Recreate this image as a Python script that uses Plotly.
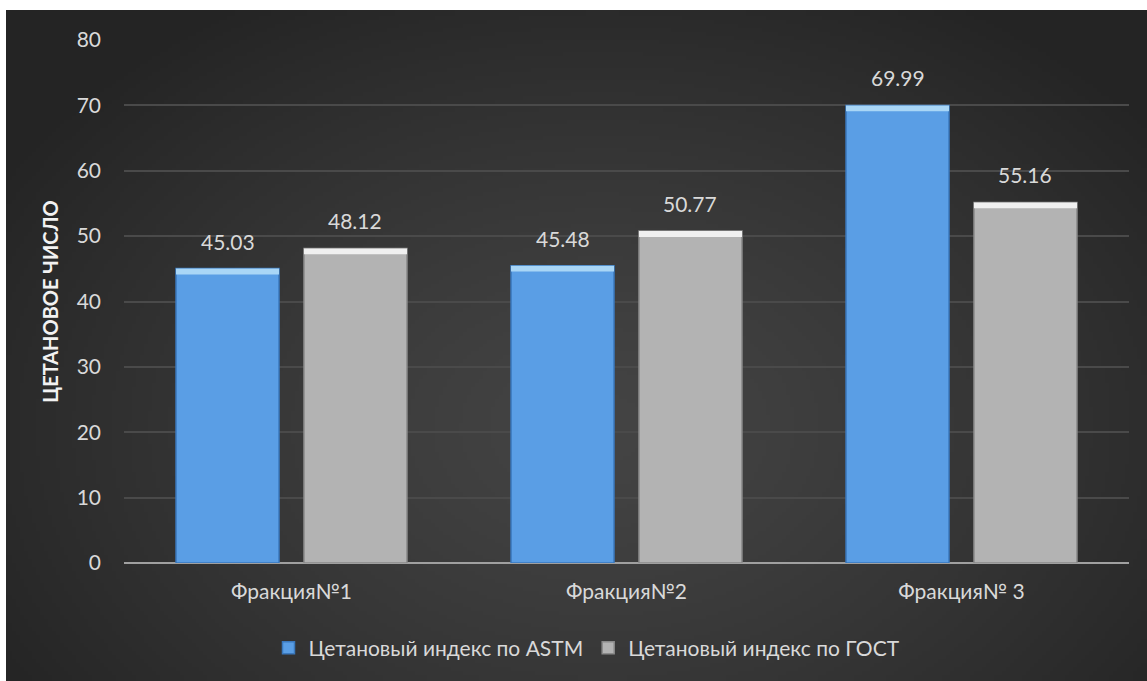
import base64
import struct
import zlib

import numpy as np
import plotly.graph_objects as go

# --- chart data -------------------------------------------------------------
categories = ["Фракция№1", "Фракция№2", "Фракция№ 3"]
astm_values = [45.03, 45.48, 69.99]
gost_values = [48.12, 50.77, 55.16]
series_names = ["Цетановый индекс по ASTM", "Цетановый индекс по ГОСТ"]
y_ticks = [0, 10, 20, 30, 40, 50, 60, 70, 80]

W, H = 1147, 681
M_L, M_R, M_T, M_B = 124, 18, 40, 118
PLOT_W = W - M_L - M_R
PLOT_H = H - M_T - M_B

FONT = "Lato"
TEXT_COLOR = "#d9d9d9"

BARGAP = 0.236


def make_png(rgb):
    """Encode an (h, w, 3) uint8 array as a PNG data URI."""
    h, w, _ = rgb.shape
    raw = b"".join(b"\x00" + rgb[r].tobytes() for r in range(h))

    def chunk(tag, data):
        c = struct.pack(">I", len(data)) + tag + data
        return c + struct.pack(">I", zlib.crc32(tag + data) & 0xFFFFFFFF)

    png = b"\x89PNG\r\n\x1a\n"
    png += chunk(b"IHDR", struct.pack(">IIBBBBB", w, h, 8, 2, 0, 0, 0))
    png += chunk(b"IDAT", zlib.compress(raw, 9))
    png += chunk(b"IEND", b"")
    return "data:image/png;base64," + base64.b64encode(png).decode()


# dark radial backdrop, lighter towards the middle
bw, bh = 286, 168
yy, xx = np.mgrid[0:bh, 0:bw].astype(float)
d = np.sqrt(((xx - bw * 0.52) / (bw * 0.62)) ** 2 + ((yy - bh * 0.62) / (bh * 0.75)) ** 2)
d = np.clip(d, 0, 1)
lum = 68 - 32 * d ** 1.3
bg = np.repeat(lum[:, :, None], 3, axis=2).clip(0, 255).astype(np.uint8)
bg_uri = make_png(bg)


def px_x(p):
    return (p - M_L) / PLOT_W


def px_y(p):
    return (H - M_B - p) / PLOT_H


fig = go.Figure()

bar_styles = [
    ("astm", astm_values, "#5a9ee5", "#3a78bd", "#a9d6f6"),
    ("gost", gost_values, "#b3b3b3", "#8a8a8a", "#f0f0f0"),
]

for (grp, vals, body, edge, hi), name in zip(bar_styles, series_names):
    fig.add_trace(go.Bar(
        x=categories, y=vals, name=name, offsetgroup=grp,
        marker=dict(color=body, line=dict(color=edge, width=1.5)),
    ))

# bevel highlight along the top of each bar
strip = 0.9
for (grp, vals, body, edge, hi), name in zip(bar_styles, series_names):
    fig.add_trace(go.Bar(
        x=categories, y=[strip] * len(vals), base=[v - strip for v in vals],
        offsetgroup=grp, showlegend=False, hoverinfo="skip",
        marker=dict(color=hi, line=dict(width=0)),
    ))

# value labels above each bar, centred on the bar of its group
slot_px = PLOT_W / len(categories) * (1 - BARGAP) / 2
annotations = []
for k, (grp, vals, *_rest) in enumerate(bar_styles):
    shift = (k - 0.5) * slot_px
    for cat, v in zip(categories, vals):
        annotations.append(dict(
            x=cat, y=v, xref="x", yref="y", text=f"{v:.2f}",
            showarrow=False, xshift=shift, yshift=13, yanchor="bottom",
            font=dict(family=FONT, size=21, color=TEXT_COLOR),
        ))

fig.update_layout(
    width=W, height=H,
    margin=dict(l=M_L, r=M_R, t=M_T, b=M_B, pad=0),
    paper_bgcolor="white",
    plot_bgcolor="rgba(0,0,0,0)",
    barmode="group",
    bargap=BARGAP,
    bargroupgap=0.195,
    font=dict(family=FONT, color=TEXT_COLOR),
    annotations=annotations,
    images=[dict(
        source=bg_uri, xref="paper", yref="paper",
        x=px_x(6), y=px_y(10),
        sizex=px_x(W) - px_x(6), sizey=px_y(10) - px_y(H),
        xanchor="left", yanchor="top", sizing="stretch", layer="below",
    )],
    xaxis=dict(
        showgrid=False, showline=False, ticks="",
        tickfont=dict(family=FONT, size=21, color=TEXT_COLOR),
        ticklabelstandoff=14,
    ),
    yaxis=dict(
        range=[0, 80], tickvals=y_ticks,
        showgrid=True, gridcolor="#4a4a4a", gridwidth=1.5,
        zeroline=True, zerolinecolor="#a0a0a0", zerolinewidth=2,
        showline=False, ticks="",
        tickfont=dict(family=FONT, size=21, color=TEXT_COLOR),
        ticklabelstandoff=22,
        title=dict(text="<b>ЦЕТАНОВОЕ ЧИСЛО</b>", standoff=12,
                   font=dict(family=FONT, size=20, color="#f2f2f2")),
    ),
    legend=dict(
        orientation="h", x=px_x(587), xanchor="center",
        y=px_y(648), yanchor="middle",
        font=dict(family=FONT, size=21, color=TEXT_COLOR),
        bgcolor="rgba(0,0,0,0)", itemwidth=30,
    ),
    showlegend=True,
)

fig.write_html("out.html")
